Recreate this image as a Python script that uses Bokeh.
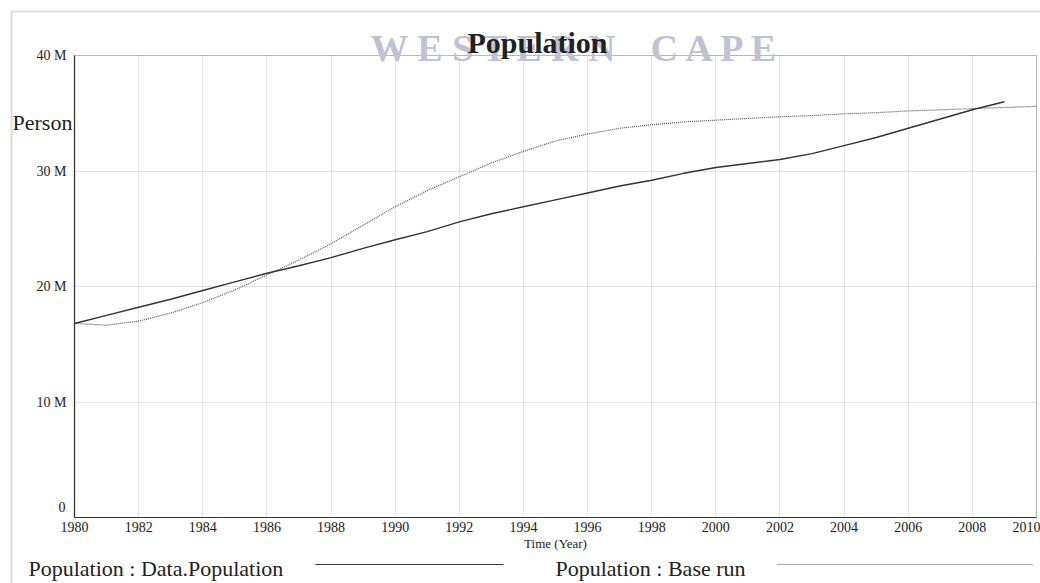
from bokeh.plotting import figure
from bokeh.models import Range1d, FixedTicker, Label, BoxAnnotation, Arrow, ColumnDataSource
from bokeh.embed import file_html
from bokeh.resources import INLINE

# ---------------- data (millions of persons) ----------------
data_years = list(range(1980, 2010))
data_population = [16.8, 17.5, 18.2, 18.9, 19.65, 20.4, 21.15, 21.8, 22.5, 23.3,
                   24.05, 24.75, 25.6, 26.3, 26.9, 27.5, 28.1, 28.7, 29.2, 29.8,
                   30.3, 30.65, 31.0, 31.5, 32.2, 32.9, 33.7, 34.5, 35.3, 36.0]

base_years = list(range(1980, 2011))
base_run = [16.8, 16.65, 17.0, 17.7, 18.6, 19.7, 21.0, 22.3, 23.7, 25.3,
            26.9, 28.3, 29.5, 30.7, 31.7, 32.6, 33.2, 33.7, 34.0, 34.25,
            34.4, 34.55, 34.7, 34.8, 34.95, 35.05, 35.2, 35.3, 35.4, 35.5, 35.6]

x_ticks = list(range(1980, 2011, 2))
y_ticks = [0, 10, 20, 30, 40]
y_tick_labels = ["0", "10 M", "20 M", "30 M", "40 M"]

title_text = "Population"
watermark_words = ["W E S T E R N", "C A P E"]
y_label = "Person"
x_label = "Time (Year)"
legend_labels = ["Population : Data.Population", "Population : Base run"]

X0, X1 = x_ticks[0], x_ticks[-1]
Y0, Y1 = y_ticks[0], y_ticks[-1]

SERIF = "Liberation Serif"
INK = "#222222"

W, H = 1040, 583
# plot box in canvas pixels
PX_L, PX_R, PX_T, PX_B = 74, 1036, 55, 517
kx = (PX_R - PX_L) / (X1 - X0)
ky = (PX_B - PX_T) / (Y1 - Y0)
x_range = Range1d(X0 - PX_L / kx, X1 + (W - PX_R) / kx)
y_range = Range1d(Y0 - (H - PX_B) / ky, Y1 + PX_T / ky)

p = figure(width=W, height=H, output_backend="svg", toolbar_location=None,
           x_range=x_range, y_range=y_range, min_border=0,
           background_fill_color="white", border_fill_color="white")
p.title = None
p.outline_line_color = None

# axes drawn at the origin of the plot box
p.xaxis.fixed_location = Y0
p.yaxis.fixed_location = X0
p.xaxis.bounds = (X0, X1)
p.yaxis.bounds = (Y0, Y1)
p.xaxis.ticker = FixedTicker(ticks=x_ticks)
p.yaxis.ticker = FixedTicker(ticks=y_ticks)
overrides = {t: lab for t, lab in zip(y_ticks, y_tick_labels)}
overrides[Y0] = ""
p.yaxis.major_label_overrides = overrides
for ax in (p.xaxis[0], p.yaxis[0]):
    ax.axis_line_color = "#333333"
    ax.axis_line_width = 1.2
    ax.major_tick_out = 0
    ax.major_tick_in = 0
    ax.minor_tick_out = 0
    ax.minor_tick_in = 0
    ax.major_label_text_font = SERIF
    ax.major_label_text_font_size = "14px"
    ax.major_label_text_color = INK
p.xaxis.major_label_standoff = 4
p.yaxis.major_label_standoff = 8
p.xaxis.axis_label = x_label
p.xaxis.axis_label_text_font = SERIF
p.xaxis.axis_label_text_font_size = "13px"
p.xaxis.axis_label_text_font_style = "normal"
p.xaxis.axis_label_text_color = INK
p.xaxis.axis_label_standoff = 1

# grid
for g in (p.xgrid[0], p.ygrid[0]):
    g.grid_line_color = "#c8c8c8"
    g.grid_line_dash = "1 1"
    g.grid_line_width = 1

# white masks so that grid lines stay inside the plot box
for kw in (dict(right=X0), dict(left=X1), dict(top=Y0), dict(bottom=Y1)):
    p.add_layout(BoxAnnotation(level="underlay", fill_color="white", fill_alpha=1,
                               line_color=None, **kw))

# series
src_data = ColumnDataSource(dict(x=data_years, y=data_population))
src_base = ColumnDataSource(dict(x=base_years, y=base_run))
p.line("x", "y", source=src_base, line_color="#555555", line_width=1.2, line_dash="1 1")
p.line("x", "y", source=src_data, line_color="#333333", line_width=1.4)

# plot box
p.add_layout(BoxAnnotation(left=X0, right=X1, bottom=Y0, top=Y1, fill_alpha=0,
                           line_color="#333333", line_width=1.2))

# outer page border
p.add_layout(BoxAnnotation(left=11, right=1100, top=572, bottom=-20,
                           left_units="screen", right_units="screen",
                           top_units="screen", bottom_units="screen",
                           fill_alpha=0, line_color="#8c8c8c", line_width=2))

# watermark + title
for txt, sx in zip(watermark_words, (370, 650)):
    p.add_layout(Label(x=sx, y=536, x_units="screen", y_units="screen", text=txt,
                       text_font=SERIF, text_font_size="38px", text_font_style="bold",
                       text_color="#bfc2d2", text_baseline="alphabetic"))
p.add_layout(Label(x=537, y=541, x_units="screen", y_units="screen", text=title_text,
                   text_font=SERIF, text_font_size="30px", text_font_style="bold",
                   text_color=INK, text_align="center", text_baseline="alphabetic"))

# y unit label and zero label
p.add_layout(Label(x=12, y=461, x_units="screen", y_units="screen", text=y_label,
                   text_font=SERIF, text_font_size="22px", text_color=INK,
                   text_baseline="alphabetic"))
p.add_layout(Label(x=65, y=77, x_units="screen", y_units="screen", text=y_tick_labels[0],
                   text_font=SERIF, text_font_size="14px", text_color=INK,
                   text_align="right", text_baseline="middle"))

# legend: text followed by line sample
p.add_layout(Label(x=28, y=15, x_units="screen", y_units="screen", text=legend_labels[0],
                   text_font=SERIF, text_font_size="22px", text_color=INK,
                   text_baseline="alphabetic"))
p.add_layout(Arrow(end=None, x_start=315, y_start=19, x_end=503, y_end=19,
                   start_units="screen", end_units="screen",
                   line_color="#333333", line_width=1.2))
p.add_layout(Label(x=555, y=15, x_units="screen", y_units="screen", text=legend_labels[1],
                   text_font=SERIF, text_font_size="22px", text_color=INK,
                   text_baseline="alphabetic"))
p.add_layout(Arrow(end=None, x_start=777, y_start=19, x_end=1032, y_end=19,
                   start_units="screen", end_units="screen",
                   line_color="#555555", line_width=1.2, line_dash="1 1"))

open("out.html", "w").write(file_html(p, INLINE))
